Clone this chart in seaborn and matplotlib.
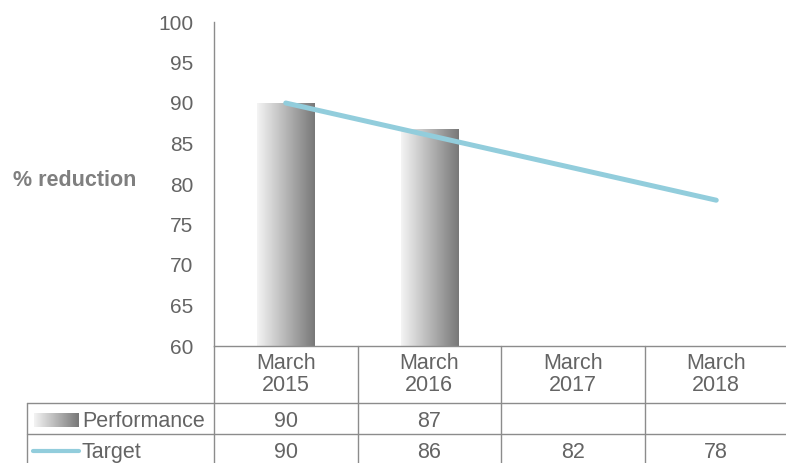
import numpy as np
import pandas as pd
import matplotlib
matplotlib.use("Agg")
import matplotlib.pyplot as plt
import matplotlib.transforms as mtransforms
from matplotlib.colors import LinearSegmentedColormap
import seaborn as sns

categories = ["March\n2015", "March\n2016", "March\n2017", "March\n2018"]
performance = [90, 86.7, np.nan, np.nan]
target = [90, 86, 82, 78]
series_names = ["Performance", "Target"]
yticks = [60, 65, 70, 75, 80, 85, 90, 95, 100]

sns.set_theme(style="white")
plt.rcParams['font.family'] = ['Liberation Sans', 'DejaVu Sans']
TXT = "#646464"
LBL = "#7f7f7f"
GRID = "#8c8c8c"
LINE = "#92CDDC"
FS = 15.5

fig = plt.figure(figsize=(7.86, 4.63), dpi=100)
W, H = 786, 463
ax_l, ax_r, ax_t, ax_b = 214, 788, 22, 346
ax = fig.add_axes([ax_l / W, 1 - ax_b / H, (ax_r - ax_l) / W, (ax_b - ax_t) / H])

x = np.arange(len(categories))
df = pd.DataFrame({"cat": categories, "perf": performance, "target": target, "x": x})

sns.barplot(data=df, x="x", y="perf", ax=ax, width=0.4, color="#bbbbbb",
            native_scale=True, errorbar=None, edgecolor="none")
ax.set_xlim(-0.5, 3.5)
ax.set_ylim(60, 100)
ymin = 60

cmap = LinearSegmentedColormap.from_list("g", ["#f4f4f4", "#787878"])
grad = np.linspace(0, 1, 256).reshape(1, -1)
for p in list(ax.patches):
    bx, by, bw, bh = p.get_x(), p.get_y(), p.get_width(), p.get_height()
    if not np.isfinite(bh) or bh == 0:
        continue
    p.set_visible(False)
    im = ax.imshow(grad, cmap=cmap, aspect="auto",
                   extent=[bx, bx + bw, max(by, ymin), by + bh], zorder=2)
ax.set_xlim(-0.5, 3.5)
ax.set_ylim(60, 100)

sns.lineplot(data=df, x="x", y="target", ax=ax, color=LINE, linewidth=3.6,
             zorder=3, legend=False)
ax.set_xlim(-0.5, 3.5)
ax.set_ylim(60, 100)

ax.set_yticks(yticks)
ax.set_yticklabels([str(v) for v in yticks], color=TXT, fontsize=15)
ax.tick_params(axis="y", length=0, pad=15)
ax.set_xticks([])
ax.set_xlabel("")
ax.set_ylabel("% reduction", rotation=0, fontsize=FS, fontweight="bold",
              color=LBL, ha="center", va="center")
ax.yaxis.set_label_coords((75 - ax_l) / (ax_r - ax_l), (ax_b - 181) / (ax_b - ax_t))
for s in ["top", "right"]:
    ax.spines[s].set_visible(False)
for s in ["left", "bottom"]:
    ax.spines[s].set_color(GRID)
    ax.spines[s].set_linewidth(1.0)

# data table (x in data coords, y in axes fraction)
trans = mtransforms.blended_transform_factory(ax.transData, ax.transAxes)
pxx = (ax_r - ax_l) / 4.0
def dx(px):
    return (px - ax_l) / pxx - 0.5
def ay(py):
    return (ax_b - py) / (ax_b - ax_t)

kw = dict(transform=trans, clip_on=False, color=GRID, linewidth=1.0)
left = dx(27)
ax.plot([left, 3.6], [ay(403)] * 2, **kw)
ax.plot([left, 3.6], [ay(434)] * 2, **kw)
for xb in [-0.5, 0.5, 1.5, 2.5]:
    ax.plot([xb, xb], [ay(346), ay(470)], **kw)
ax.plot([left, left], [ay(403), ay(470)], **kw)

tkw = dict(transform=trans, ha="center", va="baseline", fontsize=FS,
           color=TXT, clip_on=False)
for i, c in enumerate(categories):
    l1, l2 = c.split("\n")
    ax.text(i, ay(369), l1, **tkw)
    ax.text(i, ay(391), l2, **tkw)
    if np.isfinite(performance[i]):
        ax.text(i, ay(427), f"{performance[i]:.0f}", **tkw)
    ax.text(i, ay(458), f"{target[i]:.0f}", **tkw)

lkw = dict(transform=trans, ha="left", va="baseline", fontsize=FS,
           color=TXT, clip_on=False)
ax.text(dx(82), ay(427), series_names[0], **lkw)
ax.text(dx(82), ay(458), series_names[1], **lkw)

kax = fig.add_axes([34 / W, 1 - 427 / H, 45 / W, 14 / H])
kax.imshow(grad, cmap=cmap, aspect="auto", extent=[0, 1, 0, 1])
kax.axis("off")
ax.plot([dx(33), dx(79)], [ay(451)] * 2, transform=trans, clip_on=False,
        color=LINE, linewidth=3.0, solid_capstyle="round")

fig.savefig("out.png", dpi=100)
